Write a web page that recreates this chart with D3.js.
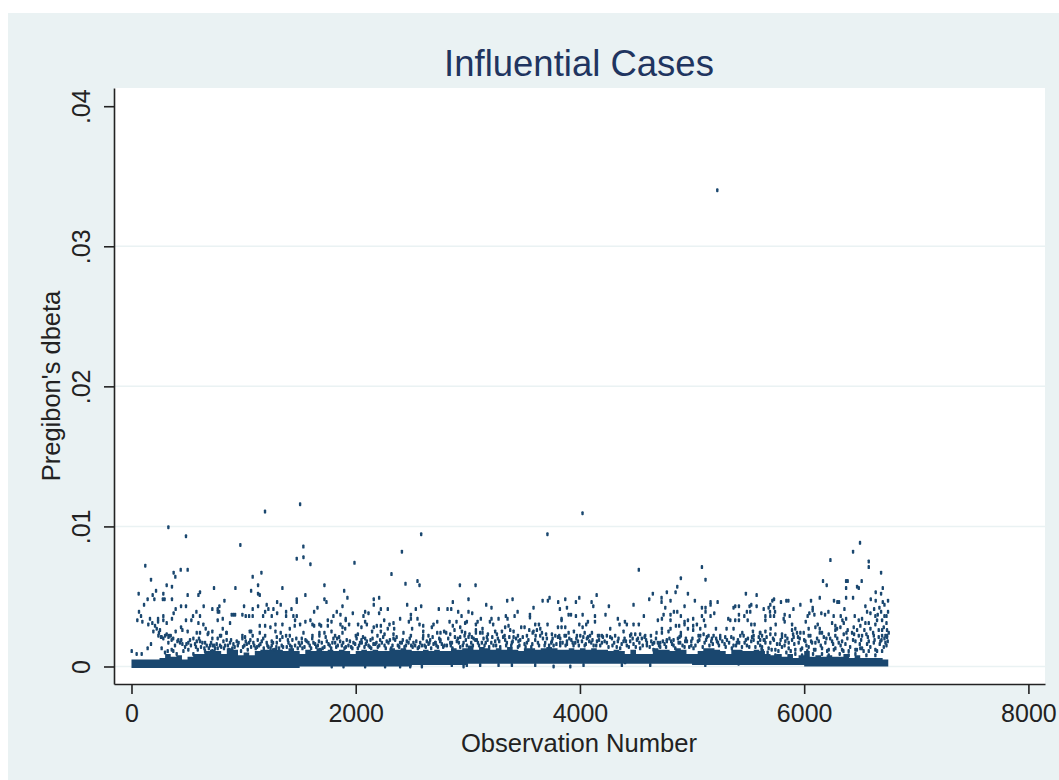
<!DOCTYPE html>
<html>
<head>
<meta charset="utf-8">
<script src="https://cdn.jsdelivr.net/npm/d3@7"></script>
<style>
html,body{margin:0;padding:0;background:#fff;}
svg{display:block;}
text{font-family:"Liberation Sans",Arial,sans-serif;}
</style>
</head>
<body>
<script>
//axis ticks
var xTicks=[0,2000,4000,6000,8000];
var yTicks=[0,.01,.02,.03,.04];
var gridTicks=[0,.01,.02,.03];
var titleText="Influential Cases",
	xTitle="Observation Number",
	yTitle="Pregibon's dbeta";

//solid band of low values, read every 50 observations from 0 to 6750
var bandObs=[];
for (var b=0; b<=6750; b+=50){bandObs.push(b);};
var bandTop=[
	.0005,.0005,.0005,.0005,.0005,.0006,.0009,.0007,.0008,.0005,.0007,.0009,.0009,.0011,.0012,.0011,.0009,.0013,.0012,.0008,.0010,.0008,.0011,.0012,.0012,.0013,.0012,.0011,
	.0013,.0011,.0009,.0012,.0011,.0013,.0011,.0012,.0011,.0012,.0011,.0009,.0011,.0012,.0011,.0012,.0011,.0011,.0013,.0012,.0013,.0012,.0011,.0011,.0012,.0011,.0012,.0011,
	.0011,.0013,.0012,.0013,.0015,.0012,.0014,.0013,.0012,.0013,.0012,.0014,.0012,.0011,.0013,.0013,.0012,.0013,.0014,.0013,.0012,.0012,.0013,.0012,.0013,.0012,.0013,.0012,.0012,
	.0011,.0012,.0011,.0009,.0012,.0009,.0009,.0009,.0013,.0012,.0012,.0011,.0013,.0012,.0009,.0009,.0011,.0013,.0013,.0012,.0011,.0009,.0012,.0012,.0011,.0011,.0012,.0011,
	.0009,.0008,.0009,.0007,.0009,.0006,.0008,.0011,.0007,.0008,.0007,.0008,.0007,.0007,.0009,.0006,.0008,.0006,.0006,.0006,.0006,.0005,.0005];
//lower edge of the band, one value per 500 observations
var bandBottom=[-.0001,-.0001,-.0001,0,0,.0001,.0002,.0002,.0002,.0002,.0001,.0001,0,0];

//single observations [number, dbeta]
var casesUpTo1400=[
	[123,.0072],[174,.0062],[219,.0054],[64,.0052],[144,.0048],[189,.0051],[204,.0048],[112,.0044],[284,.0052],[280,.0048],[295,.0048],[314,.0058],[361,.0057],[361,.0048],[376,.0067],[391,.0064],[439,.0069],[501,.0069],[501,.0051],[597,.0051],[611,.0053],[442,.0043],[486,.0043],[394,.0041],[376,.0038],[361,.0034],[644,.0043],[736,.0056],[721,.0041],[769,.0041],[784,.0043],[770,.0039],[782,.0039],[829,.0047],[927,.0056],[1067,.0054],[1081,.0064],[1159,.0067],[1129,.0058],[1129,.0052],[1144,.0051],[1004,.0043],[1081,.0041],[1129,.0043],[1206,.0044],[1192,.0039],[1221,.0041],[1266,.0041],[1299,.0046],[1331,.0044],[1346,.0056],
	[329,.00994],[486,.0093],[1191,.01106],[971,.00868],
	[67,.0039],[52,.0033],[85,.0036],[97,.0032],[165,.0034],[150,.003],[186,.0031],[237,.0034],[237,.0032],[284,.0036],[284,.0033],[314,.0031],[210,.0029],[225,.0027],[254,.0026],[195,.0025],[240,.0022],[269,.0021],[314,.0023],[350,.0022],[394,.0025],[442,.0028],[486,.0033],[454,.0026],[501,.0025],[549,.0036],[534,.0033],[579,.0039],[611,.0036],[597,.0031],[582,.0024],[641,.003],[662,.0027],[686,.0024],[721,.0025],[769,.0033],[814,.0034],[879,.0031],[894,.0037],[909,.0037],[924,.0037],[989,.0037],[1019,.0036],[1049,.0036],[1081,.0036],[846,.0024],[814,.0027],[799,.0022],[721,.002],[989,.0022],[1055,.0025],[1081,.0022],[1144,.0029],[1192,.0029],[1239,.0028],[1284,.003],[1346,.003],[1331,.0024],[1284,.0025],[1144,.0024],[1192,.0022],[1251,.0018],[1346,.0021],[1174,.0036],[1251,.0036],[1299,.0038],
	[174,.0016],[144,.0013],[269,.0013],[2,.0011],[46,.0009],[91,.0009],[299,.0010],[373,.0011],[403,.0009],[245,.0024],[263,.0021],[284,.002],[335,.0022],[358,.0019],[418,.0019],[454,.0016],[507,.0017],[552,.002],[582,.0018],[611,.0018],[656,.0017],[701,.0015],[739,.0015],[769,.0013],[820,.0018],[849,.0019],[879,.0017],[909,.0016],[939,.0018],[989,.002],[1019,.0018],[1049,.0017],[1087,.0017],[1126,.0019],[1162,.0018],[1206,.0017],[1251,.0015],[1296,.0017],[1340,.0015],[1296,.0021],[611,.0024],[680,.0023],[790,.0022],[769,.002],[849,.0024],[1013,.0021],[1067,.0025],
	[329,.0017],[388,.0015],[433,.0017],[478,.0014],[522,.0019],[567,.0016],[602,.002],[632,.0017],[671,.0015],[710,.0017],[745,.0013],[790,.0015],[835,.0015],[870,.0012],[900,.0013],[948,.0015],[977,.0011],[1007,.0015],[1037,.0012],[1067,.0014],[1108,.0013],[1138,.0015],[1180,.0013],[1221,.0014],[1275,.0012],[1316,.0013],[323,.0011],[359,.0012],[463,.0011],[507,.0012],[552,.0009],[591,.0012],[656,.0011],[721,.0011],
	[300,.0022],[330,.0021],[372,.002],[410,.0018],[444,.0019],[490,.0016],[530,.0015],[575,.0014],[620,.0014],[650,.0013],[690,.0013],[725,.0015],[760,.0016],[800,.0014],[825,.0013],[860,.0015],[888,.0019],[920,.0014],[955,.0017],[995,.0014],[1028,.0016],[1060,.0019],[1095,.0015],[1120,.0014],[1150,.0016],[1175,.002],[1212,.0015],[1240,.0013],[1262,.0017],[1292,.0014],[1325,.0019],[1352,.0014]];

var casesUpTo2800=[
	[1504,.01159],[1533,.00856],[2584,.00944],[2412,.0082],[1474,.0077],[1534,.0078],[1596,.0073],[1989,.0074],[2319,.0066],[2444,.0059],[2551,.0061],[2569,.0058],[1721,.0058],[1897,.0054],[1551,.0051],[1721,.0048],[1739,.0046],[1926,.0049],[1474,.0048],[1474,.0046],[1659,.0042],[1629,.0039],[1882,.0043],[1831,.0039],[1864,.0037],[1801,.0036],[1911,.0034],[1911,.0033],[1974,.0038],[2161,.0048],[2161,.0044],[2209,.0049],[2224,.0041],[2209,.0038],[2286,.0041],[2084,.0039],[2114,.0038],[2069,.0036],[2459,.0044],[2536,.0041],[2584,.0043],[2741,.0041],[2551,.0034],[2492,.0037],[2492,.0034],[2396,.0034],[2254,.0033],[1379,.0039],[1379,.0036],[1427,.0041],[1444,.0036],[1474,.0036],[1459,.0033],[1456,.0029],[1504,.003],[1551,.0032],[1596,.0033],[1614,.003],[1629,.0029],[1676,.003],[1691,.0029],[1751,.0033],[1751,.0029],[1784,.0032],[1864,.003],[1882,.0028],[1906,.0027],[1941,.003],[2021,.003],[2051,.0028],[2084,.0032],[2099,.003],[2161,.0028],[2146,.0025],[2188,.0029],[2224,.0029],[2224,.0025],[2301,.003],[2337,.0031],[2343,.0027],[2286,.0027],[2474,.0032],[2503,.0027],[2569,.003],[2602,.0029],[2602,.0025],[2694,.003],[2727,.0032],[2679,.0028],[2789,.0025],[2756,.0024],[2727,.0024],[2426,.0024],[1412,.0027],[1534,.0024],[1676,.0024],[1676,.0022],[1614,.0022],[1721,.0024],[1784,.0025],[1816,.0022],[1834,.002],[1882,.0024],[2001,.0022],[2019,.0023],[2084,.002],[2051,.0019],[2132,.0019],[2194,.0022],[2257,.0023],[2337,.0023],[2492,.0022],[2602,.0022],[2649,.0022],[2664,.0019],[2756,.0019],[2712,.0017],[1412,.0022],[1519,.002],[1379,.0022],
	[1400,.0017],[1459,.0015],[1519,.0017],[1578,.0017],[1638,.0016],[1697,.0017],[1757,.0016],[1816,.0017],[1876,.0015],[1935,.0015],[1995,.0016],[2054,.0017],[2114,.0015],[2173,.0016],[2233,.0017],[2292,.0017],[2352,.0019],[2411,.0017],[2471,.0017],[2530,.0015],[2590,.0015],[2649,.0016],[2709,.0017],[2768,.0016],
	[1786,0],[1891,0],[2084,0],[2262,0],[2396,0],[2486,0],[2590,0],
	[1385,.0014],[1415,.0015],[1435,.0019],[1483,.0013],[1504,.0015],[1543,.0014],[1563,.0018],[1602,.0013],[1623,.0017],[1662,.0015],[1682,.0012],[1721,.0014],[1742,.0018],[1781,.0013],[1801,.002],[1840,.0015],[1861,.0018],[1900,.0013],[1920,.0019],[1959,.0014],[1980,.0017],[2019,.0013],[2039,.0017],[2078,.0014],[2099,.0018],[2138,.0013],[2158,.0016],[2197,.0014],[2218,.0019],[2257,.0015],[2277,.0018],[2316,.0013],[2337,.002],[2376,.0015],[2396,.0017],[2435,.0014],[2456,.0018],[2495,.0015],[2515,.0017],[2554,.0013],[2575,.0017],[2614,.0015],[2634,.0018],[2673,.0013],[2694,.0016],[2733,.0014],[2753,.0018],[2792,.0015],
	[1395,.0019],[1428,.0014],[1470,.002],[1492,.0017],[1525,.0013],[1552,.0019],[1590,.0015],[1612,.002],[1648,.0014],[1672,.0018],[1705,.0013],[1732,.0021],[1768,.0015],[1792,.0017],[1826,.0014],[1852,.0021],[1888,.0017],[1912,.0014],[1948,.0018],[1970,.0013],[2008,.002],[2030,.0015],[2065,.0021],[2090,.0016],[2125,.0014],[2150,.002],[2185,.0017],[2210,.0015],[2245,.0021],[2268,.0013],[2305,.0019],[2328,.0015],[2365,.0021],[2388,.0014],[2420,.0019],[2448,.0015],[2482,.002],[2508,.0014],[2540,.0018],[2565,.0014],[2600,.002],[2625,.0014],[2658,.0017],[2686,.0021],[2720,.0015],[2745,.002],[2780,.0014]];

var casesUpTo4200=[
	[3710,.00944],[4023,.01094],[2929,.0058],[3069,.0058],[3006,.0048],[2866,.0046],[2819,.0041],[2852,.0041],[2914,.0039],[3006,.0039],[3039,.0038],[2944,.0036],[3116,.0034],[2837,.0032],[2899,.0032],[2976,.0031],[2991,.0032],[3072,.003],[3087,.0032],[3197,.0032],[3211,.0034],[3226,.003],[3274,.0034],[3164,.0044],[3211,.0042],[3351,.0047],[3399,.0048],[3444,.0039],[3339,.0036],[3354,.0034],[3417,.0036],[3586,.0042],[3554,.0037],[3554,.0035],[3667,.0047],[3714,.0047],[3729,.0049],[3806,.0046],[3821,.0041],[3869,.0048],[3884,.0042],[3899,.0037],[3920,.0037],[3836,.0034],[3836,.0033],[3964,.0046],[3994,.0049],[3964,.0036],[4024,.0037],[4104,.0046],[4119,.0043],[4149,.0051],[4134,.0036],[4134,.0032],[4071,.0032],[4056,.003],[3994,.003],[4024,.0028],[3601,.003],[3634,.003],[3711,.003],[3804,.0028],[3836,.0028],[3869,.0028],[3946,.0025],[3899,.0024],
	[2866,.0029],[2881,.0026],[2932,.0028],[2947,.0025],[2843,.0023],[2807,.0024],[2976,.0024],[2932,.0021],[3006,.0021],[3036,.0021],[3072,.0026],[3072,.0024],[3131,.0027],[3131,.0024],[3179,.0023],[3244,.0025],[3259,.0023],[3304,.0025],[3333,.0028],[3363,.0029],[3378,.0026],[3408,.0025],[3447,.0022],[3476,.0028],[3506,.0028],[3548,.0026],[3578,.0024],[3616,.0026],[3646,.0027],[3661,.0024],[3750,.0023],[3780,.0022],[3824,.002],[3875,.0022],[3973,.0022],[4042,.0024],[4071,.0021],[4107,.0024],[4172,.0022],[4196,.0022],
	[2858,.0017],[2902,.0018],[2962,.0017],[3066,.0019],[3125,.0017],[3176,.0019],[3244,.0018],[3333,.0019],[3393,.0017],[3452,.0018],[3527,.0017],[3601,.0019],[3690,.0017],[3750,.0018],[3824,.0017],[3884,.0018],[3958,.0017],[4018,.0018],[4083,.0018],[4152,.0018],[4196,.0017],
	[2857,.0001],[2962,0],[2991,.0001],[3110,.0001],[3274,.0001],[3393,.0001],[3601,.0001],[3765,0],[3914,0],[4032,.0001],
	[2813,.0015],[2843,.0017],[2863,.0013],[2911,.002],[2932,.0014],[2971,.0022],[2991,.0015],[3030,.0017],[3051,.002],[3090,.0017],[3110,.0024],[3149,.0015],[3170,.0021],[3209,.0017],[3229,.0015],[3268,.002],[3289,.0014],[3328,.0022],[3348,.0017],[3387,.0015],[3408,.0021],[3447,.0014],[3467,.0019],[3506,.0016],[3527,.0022],[3566,.0014],[3586,.0025],[3625,.0017],[3646,.0022],[3685,.0015],[3705,.002],[3744,.0017],[3765,.0015],[3804,.0021],[3824,.0015],[3863,.0022],[3884,.0016],[3923,.0019],[3943,.0015],[3982,.0018],[4003,.0022],[4042,.0015],[4062,.002],[4101,.0017],[4122,.0015],[4161,.0022],[4181,.0015],[4220,.0018],
	[2825,.002],[2848,.0015],[2885,.0021],[2920,.0017],[2955,.0015],[2982,.0019],[3015,.0023],[3045,.0015],[3080,.0019],[3100,.0015],[3140,.002],[3160,.0017],[3190,.0014],[3218,.0021],[3252,.0015],[3280,.0018],[3315,.0021],[3342,.0015],[3370,.0021],[3400,.0018],[3430,.002],[3460,.0015],[3490,.0021],[3515,.0014],[3540,.0019],[3575,.0016],[3605,.0022],[3635,.0015],[3670,.002],[3698,.0023],[3725,.0015],[3756,.002],[3790,.0016],[3815,.0022],[3845,.0017],[3872,.0015],[3905,.002],[3935,.0017],[3968,.002],[3990,.0015],[4030,.0021],[4052,.0016],[4090,.0022],[4112,.0019],[4145,.0015],[4170,.0019],[4205,.0021]];

var casesUpTo5600=[
	[5225,.034],[4525,.0069],[5088,.0071],[5120,.0062],[4900,.0063],[4868,.0057],[4853,.0053],[4775,.0053],[4650,.0052],[4618,.0048],[4728,.0049],[4728,.0046],[4808,.0047],[4963,.0052],[5025,.0047],[4258,.0043],[4478,.0044],[4761,.0042],[4933,.0043],[5165,.0046],[5165,.0044],[5228,.0046],[5088,.0042],[5120,.0042],[5120,.0039],[5198,.0038],[5165,.0036],[5480,.0052],[5576,.0051],[5528,.0044],[5513,.0043],[5370,.0042],[5385,.0043],[5418,.0043],[5576,.0043],[5489,.0039],[5519,.0039],[4228,.0037],[4338,.0034],[4570,.0036],[4695,.0033],[4746,.0037],[4731,.0034],[4808,.0037],[4808,.0033],[4838,.0039],[4868,.0039],[4900,.0036],[5010,.0034],[4933,.0032],[4963,.0033],[5088,.0036],[5106,.0033],[5323,.0034],[5341,.0033],[5385,.0033],[5418,.0037],[5418,.0033],[5466,.0036],[5496,.0033],[5528,.003],[5558,.003],[5543,.0025],[5605,.0024],[4353,.003],[4401,.0032],[4418,.003],[4478,.003],[4525,.003],[4683,.0024],[4731,.0027],[4731,.0024],[4790,.0025],[4808,.0027],[4856,.0029],[4885,.0029],[4900,.0024],[4900,.0022],[4933,.003],[4963,.0027],[5010,.0029],[5010,.0026],[5043,.003],[5073,.0027],[5118,.0029],[5213,.0027],[5308,.0027],[5370,.0027],[5448,.0024],[4270,.0027],[4314,.0022],[4389,.0025],[4448,.0022],[4493,.0023],[4537,.0023],[4582,.0022],[4633,.0022],
	[4240,.0022],[4285,.002],[4344,.002],[4389,.0018],[4448,.0018],[4508,.0019],[4552,.002],[4597,.0017],[4662,.0017],[4716,.0017],[4775,.0018],[4835,.0019],[4880,.0017],[4939,.0018],[4993,.0018],[5058,.0022],[5103,.0023],[5147,.0022],[5177,.002],[5222,.0018],[5251,.0022],[5296,.0021],[5370,.002],[5400,.0017],[5460,.0022],[5498,.002],[5549,.0019],[5608,.0019],
	[4374,.0001],[4403,.0003],[4627,.0001],[5118,.0001],[5415,.0002],
	[4240,.0017],[4270,.0021],[4290,.0015],[4338,.0018],[4359,.0013],[4398,.002],[4418,.0015],[4457,.0023],[4478,.0016],[4517,.002],[4537,.0013],[4576,.0021],[4597,.0015],[4636,.0018],[4656,.0012],[4695,.0017],[4716,.0014],[4755,.0016],[4775,.0019],[4814,.0018],[4835,.0015],[4874,.002],[4894,.0017],[4933,.0014],[4954,.0018],[4993,.0015],[5013,.0013],[5052,.0018],[5073,.0022],[5112,.0017],[5132,.0021],[5171,.0018],[5192,.0022],[5231,.0017],[5251,.002],[5290,.0016],[5311,.0019],[5350,.0021],[5370,.0015],[5409,.0019],[5430,.0022],[5469,.0017],[5489,.0015],[5528,.0018],[5549,.0022],[5588,.0017],[5608,.0015],[5647,.0019],
	[4255,.0014],[4305,.0017],[4328,.0014],[4372,.0016],[4410,.0018],[4436,.0014],[4470,.002],[4498,.0014],[4530,.0017],[4560,.0015],[4590,.0019],[4622,.0014],[4648,.0016],[4678,.002],[4705,.0015],[4740,.0018],[4768,.0014],[4798,.002],[4822,.0016],[4850,.0013],[4888,.0021],[4915,.0015],[4945,.002],[4975,.0014],[5003,.002],[5030,.0015],[5065,.0019],[5095,.0014],[5125,.0019],[5155,.0015],[5185,.0016],[5215,.002],[5240,.0015],[5270,.0018],[5300,.0014],[5330,.0017],[5355,.0013],[5392,.0015],[5420,.0017],[5445,.0014],[5480,.0019],[5510,.0014],[5535,.0021],[5565,.0014],[5595,.0021],[5620,.0012]];

var casesUpTo6750=[
	[6498,.00883],[6436,.0082],[6234,.0076],[6576,.0075],[6576,.0071],[6686,.0067],[6168,.0061],[6201,.0058],[6374,.0061],[6388,.0061],[6513,.0061],[6374,.0056],[6472,.0057],[6487,.0056],[6701,.0056],[6638,.0053],[6686,.0052],[6139,.0049],[6374,.0049],[6436,.0049],[6594,.0048],[6748,.0047],[6638,.0047],[6701,.0046],[6716,.0044],[6061,.0047],[5731,.0048],[5716,.0047],[5698,.0044],[5793,.0046],[5841,.0047],[5859,.0047],[5966,.0044],[6266,.0047],[6296,.0046],[6311,.0046],[5639,.0041],[5683,.0042],[5695,.0039],[5731,.0042],[5740,.0039],[5904,.0041],[6076,.0042],[6076,.004],[6359,.0041],[6546,.0043],[6561,.0039],[6591,.0038],[6671,.0042],[6686,.0039],[6624,.0041],[6748,.0039],[6734,.0036],[6656,.0037],[6046,.0038],[6014,.0032],[6031,.0036],[6091,.0037],[6153,.0038],[6186,.0037],[6216,.0039],[5826,.0037],[5817,.0034],[5826,.0032],[5871,.0036],[5654,.0036],[5654,.0033],[5698,.0036],[5731,.0036],[5746,.003],[5701,.0027],[6263,.0036],[6326,.0036],[6341,.0033],[6374,.0034],[6451,.0036],[6487,.0033],[6516,.0034],[6546,.0031],[6576,.0031],[6635,.0036],[6650,.0033],[6716,.0036],[6695,.0033],[6734,.0031],[6739,.0026],[6739,.0022],
	[5892,.003],[5892,.0026],[5921,.0027],[5936,.0024],[5966,.0024],[6040,.0027],[6100,.0028],[6121,.003],[6139,.0027],[6249,.0031],[6278,.0029],[6293,.0027],[6323,.0028],[6353,.0031],[6388,.0026],[6442,.0028],[6472,.0026],[6501,.0029],[6537,.0026],[6591,.0027],[6635,.003],[6665,.0026],[6710,.0028],[6695,.0022],[6725,.0022],[6754,.0024],
	[5609,.0024],[5654,.0025],[5698,.0023],[5743,.0023],[5802,.0023],[5832,.0022],[5906,.0021],[5996,.0024],[6055,.0022],[6159,.0024],[6219,.0023],[6278,.0022],[6353,.0023],[6427,.0024],[6487,.0022],[6555,.0023],[6621,.0022],[6665,.0021],[6716,.002],[6739,.0021],
	[5639,.0019],[5698,.0017],[5758,.0016],[5832,.0018],[5892,.0019],[5951,.0017],[6011,.0018],[6070,.0017],[6130,.0018],[6189,.0017],[6249,.0018],[6308,.0017],[6368,.0016],[6457,.0018],[6501,.0013],[6561,.0016],[6621,.0017],[6680,.0018],[6725,.0017],
	[5624,.0014],[5683,.0013],[5743,.0012],[5802,.0014],[5862,.0013],[5921,.0012],[5981,.0013],[6040,.0014],[6100,.0012],[6159,.0013],[6219,.0012],[6278,.0013],[6338,.0012],[6397,.0011],[6457,.0012],[6516,.0013],[6576,.0011],[6635,.0012],[6695,.0011],
	[5624,.0022],[5654,.0017],[5674,.001],[5722,.002],[5743,.0008],[5782,.0016],[5802,.0021],[5841,.001],[5862,.0017],[5901,.0023],[5921,.0009],[5960,.002],[5981,.0008],[6020,.0015],[6040,.0022],[6079,.0009],[6100,.0017],[6139,.0024],[6159,.0009],[6198,.002],[6219,.0008],[6258,.0016],[6278,.0026],[6317,.0009],[6338,.0018],[6377,.0024],[6397,.0008],[6436,.0019],[6457,.0009],[6496,.0016],[6516,.0022],[6555,.0008],[6576,.0018],[6615,.0024],[6635,.0008],[6674,.0016],[6695,.0026],[6734,.0015],
	[5632,.0011],[5665,.0021],[5710,.0012],[5730,.0019],[5770,.0011],[5790,.0019],[5825,.0015],[5850,.002],[5880,.0011],[5912,.0016],[5945,.0021],[5970,.0012],[6000,.0019],[6028,.0011],[6062,.0018],[6088,.0012],[6115,.002],[6148,.0015],[6175,.0021],[6205,.0011],[6232,.002],[6265,.0012],[6295,.002],[6325,.0015],[6350,.0011],[6385,.002],[6410,.0014],[6445,.0023],[6470,.0012],[6508,.0019],[6530,.0011],[6568,.0021],[6590,.0014],[6628,.0019],[6650,.0011],[6690,.0019],[6710,.0014],[6745,.0018]];

//set up the frame
var width=1059,
	height=780,
	navy="#1a476f",
	inkColor="#222",
	bgColor="#eaf2f3";

var svg=d3.select("body")
	.append("svg")
	.attr("width",width)
	.attr("height",height);

//outer background starts a little inside the window
svg.append("rect")
	.attr("x",8)
	.attr("y",13)
	.attr("width",width-8)
	.attr("height",height-13)
	.style("fill",bgColor);

//scales run to the edge of the plot region
var xScale=d3.scaleLinear()
	.domain([-156,8148])
	.range([114,1045]);
var yScale=d3.scaleLinear()
	.domain([-.00125,.0413])
	.range([684,88]);

//plot region
svg.append("rect")
	.attr("x",xScale.range()[0])
	.attr("y",yScale.range()[1])
	.attr("width",xScale.range()[1]-xScale.range()[0])
	.attr("height",yScale.range()[0]-yScale.range()[1])
	.style("fill","#fff");

//gridlines
svg.selectAll(".grid")
	.data(gridTicks)
	.enter()
	.append("line")
	.attr("class","grid")
	.attr("x1",xScale.range()[0])
	.attr("x2",xScale.range()[1])
	.attr("y1",function(d){return yScale(d);})
	.attr("y2",function(d){return yScale(d);})
	.style("stroke",bgColor)
	.style("stroke-width",1.5);

//solid band of overlapping low values
var band=d3.area()
	.x(function(d){return xScale(d);})
	.y0(function(d,i){return yScale(bandBottom[Math.floor(i/10)]);})
	.y1(function(d,i){return yScale(bandTop[i]);})
	.curve(d3.curveStepAfter);

svg.append("path")
	.datum(bandObs)
	.attr("d",band)
	.style("fill",navy);

//all the single observations
var cases=casesUpTo1400.concat(casesUpTo2800,casesUpTo4200,casesUpTo5600,casesUpTo6750);

svg.selectAll(".case")
	.data(cases)
	.enter()
	.append("rect")
	.attr("class","case")
	.attr("x",function(d){return xScale(d[0])-1.2;})
	.attr("y",function(d){return yScale(d[1])-2;})
	.attr("width",2.4)
	.attr("height",4)
	.attr("rx",.9)
	.style("fill",navy);

//axes
var xAxis=d3.axisBottom(xScale)
	.tickValues(xTicks)
	.tickSize(10)
	.tickSizeOuter(0)
	.tickPadding(10)
	.tickFormat(function(d){return String(d);});
var gx=svg.append("g")
	.attr("class","axis")
	.attr("transform","translate(0,684)")
	.call(xAxis);

var yAxis=d3.axisLeft(yScale)
	.tickValues(yTicks)
	.tickSize(10)
	.tickSizeOuter(0)
	.tickFormat(function(d){return d===0?"0":String(d).replace(/^0/,"");});
var gy=svg.append("g")
	.attr("class","axis")
	.attr("transform","translate(114,0)")
	.call(yAxis);

//rotate the y labels, each tick group already sits at its value
gy.selectAll("text")
	.attr("x",null)
	.attr("dy",null)
	.attr("transform","translate(-24,0) rotate(-90)")
	.style("text-anchor","middle");

svg.selectAll(".axis text")
	.style("font-size","25px")
	.style("fill",inkColor);
svg.selectAll(".axis path, .axis line")
	.style("stroke","#222")
	.style("stroke-width",1.6);

//titles
svg.append("text")
	.attr("x",579)
	.attr("y",76)
	.style("text-anchor","middle")
	.style("font-size","36.5px")
	.style("fill","#1f3560")
	.text(titleText);
svg.append("text")
	.attr("x",579)
	.attr("y",752)
	.style("text-anchor","middle")
	.style("font-size","25.6px")
	.style("fill",inkColor)
	.text(xTitle);
svg.append("text")
	.attr("transform","translate(60,386) rotate(-90)")
	.style("text-anchor","middle")
	.style("font-size","25.5px")
	.style("fill",inkColor)
	.text(yTitle);
</script>
</body>
</html>
